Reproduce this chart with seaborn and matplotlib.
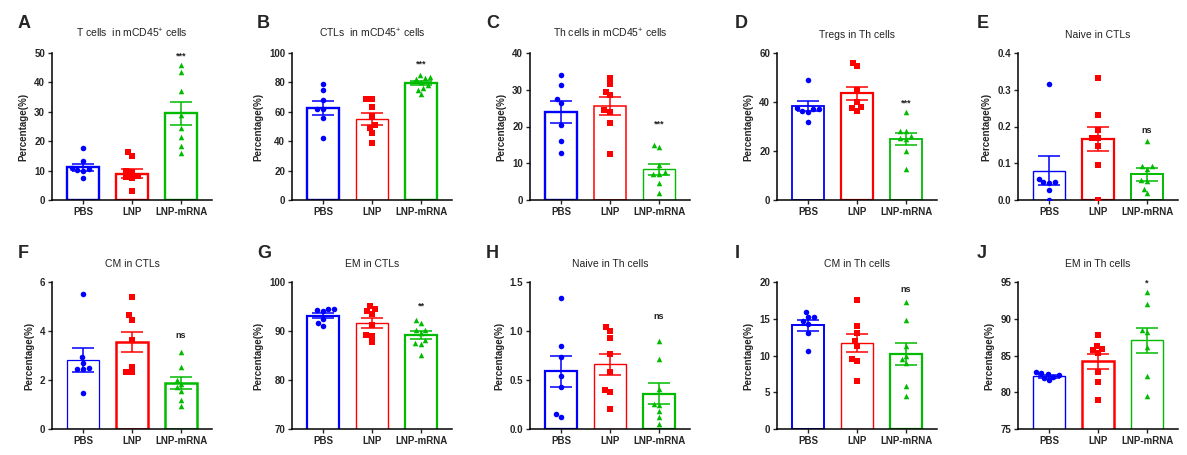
import matplotlib
matplotlib.use('Agg')
import matplotlib.pyplot as plt
import seaborn as sns
import numpy as np
import pandas as pd

sns.set_style('ticks')
plt.rcParams['font.family'] = ['Liberation Sans', 'DejaVu Sans']
plt.rcParams['mathtext.fontset'] = 'custom'
plt.rcParams['mathtext.rm'] = 'Liberation Sans'
plt.rcParams['mathtext.bf'] = 'Liberation Sans:bold'

# ---- data ----
groups = ['PBS', 'LNP', 'LNP-mRNA']
letters = ['A', 'B', 'C', 'D', 'E', 'F', 'G', 'H', 'I', 'J']
titles = [r'T cells  in mCD45$^{+}$ cells', r'CTLs  in mCD45$^{+}$ cells', r'Th cells in mCD45$^{+}$ cells',
          'Tregs in Th cells', 'Naive in CTLs', 'CM in CTLs', 'EM in CTLs',
          'Naive in Th cells', 'CM in Th cells', 'EM in Th cells']

pbs_vals = [
    [17.8, 13.1, 10.8, 10.5, 10.3, 10.0, 7.6],
    [79, 75, 68, 62, 62, 55.5, 42],
    [34.1, 31.4, 27.5, 26.5, 20.3, 16.0, 12.8],
    [49.1, 37.5, 37.0, 37.0, 36.5, 36.0, 31.8],
    [0.315, 0.058, 0.048, 0.048, 0.045, 0.027, 0.0],
    [5.5, 2.92, 2.7, 2.5, 2.45, 2.45, 1.45],
    [94.5, 94.5, 94.3, 94.0, 92.5, 91.7, 91.0],
    [1.34, 0.85, 0.73, 0.54, 0.43, 0.15, 0.12],
    [15.9, 15.2, 15.2, 14.7, 14.3, 13.0, 10.6],
    [82.7, 82.6, 82.5, 82.3, 82.1, 81.9, 81.6],
]
lnp_vals = [
    [16.2, 14.8, 10.0, 9.5, 8.0, 7.8, 7.5, 3.0],
    [69, 68.5, 63, 57, 51, 49, 45.5, 39],
    [33.3, 31.5, 29.5, 28.5, 24.5, 24.0, 21.0, 12.5],
    [56.0, 54.5, 45.0, 40.0, 38.0, 37.5, 36.5],
    [0.333, 0.23, 0.19, 0.17, 0.17, 0.148, 0.095, 0.0],
    [5.37, 4.65, 4.45, 3.65, 2.55, 2.32, 2.32],
    [95.2, 94.5, 94.0, 93.5, 91.3, 89.2, 89.0, 87.8],
    [1.04, 1.0, 0.93, 0.77, 0.58, 0.40, 0.38, 0.20],
    [17.6, 14.0, 13.0, 12.0, 11.3, 9.5, 9.2, 6.5],
    [87.8, 86.3, 85.9, 85.7, 85.3, 82.8, 81.4, 78.9],
]
mrna_vals = [
    [46.0, 43.5, 37.0, 29.0, 24.5, 21.5, 18.5, 16.0],
    [85, 84, 83, 82, 80, 78, 76, 75, 72],
    [15.0, 14.5, 9.5, 7.5, 7.0, 7.0, 4.5, 2.0],
    [36.0, 28.0, 28.0, 26.0, 25.5, 25.0, 20.0, 12.5],
    [0.16, 0.092, 0.092, 0.085, 0.055, 0.052, 0.03, 0.018],
    [3.15, 2.55, 2.0, 1.85, 1.7, 1.55, 1.2, 0.92],
    [92.3, 91.7, 90.3, 90.2, 89.5, 88.2, 87.5, 87.4, 85.2],
    [0.90, 0.71, 0.41, 0.26, 0.24, 0.18, 0.12, 0.05],
    [17.3, 14.8, 11.3, 10.0, 9.5, 9.0, 5.8, 4.5],
    [93.7, 92.0, 88.5, 88.2, 86.2, 82.2, 79.5],
]
bar_means = [
    [11.1, 9.0, 29.5], [62.5, 55.0, 79.5], [24.0, 25.5, 8.3], [38.5, 43.5, 25.0],
    [0.080, 0.166, 0.070], [2.82, 3.55, 1.88], [93.1, 91.7, 89.2],
    [0.59, 0.66, 0.36], [14.1, 11.7, 10.2], [82.2, 84.2, 87.1],
]
bar_sems = [
    [1.3, 1.6, 4.0], [4.7, 4.0, 1.5], [3.0, 2.4, 1.6], [2.0, 2.7, 2.5],
    [0.04, 0.034, 0.017], [0.48, 0.42, 0.25], [0.5, 1.0, 0.8],
    [0.16, 0.11, 0.105], [0.7, 1.2, 1.5], [0.2, 1.0, 1.7],
]
y_ticks = [
    [0, 10, 20, 30, 40, 50], [0, 20, 40, 60, 80, 100], [0, 10, 20, 30, 40], [0, 20, 40, 60],
    [0.0, 0.1, 0.2, 0.3, 0.4], [0, 2, 4, 6], [70, 80, 90, 100],
    [0.0, 0.5, 1.0, 1.5], [0, 5, 10, 15, 20], [75, 80, 85, 90, 95],
]
sig_labels = ['***', '***', '***', '***', 'ns', 'ns', '**', 'ns', 'ns', '*']
sig_heights = [49, 92.5, 20.8, 39.5, 0.19, 3.8, 95, 1.15, 19.0, 94.8]

# ---- styling ----
colors = ['#0000FF', '#FF0000', '#00BB00']
markers = ['o', 's', '^']
bar_lw = [
    [1.7, 1.7, 1.7], [1.7, 1.0, 1.7], [1.7, 1.1, 1.0], [1.3, 1.6, 1.3], [1.0, 1.6, 1.4],
    [0.9, 1.8, 1.8], [1.6, 1.0, 1.6], [1.6, 1.0, 1.6], [1.4, 1.0, 1.6], [1.0, 1.8, 1.0],
]
tick_fmt = ['%d', '%d', '%d', '%d', '%.1f', '%d', '%d', '%.1f', '%d', '%d']

W, H = 1187, 455
lefts = [52, 292, 530, 777, 1018]
letter_x = [18, 257, 486, 735, 977]
fig = plt.figure(figsize=(W / 100, H / 100), dpi=100)

for i in range(10):
    row, col = divmod(i, 5)
    bottom_px = 200 if row == 0 else 429
    ax = fig.add_axes([lefts[col] / W, 1 - bottom_px / H, 160 / W, 147 / H])

    sns.barplot(x=groups, y=bar_means[i], order=groups, hue=groups, palette=colors,
                fill=False, width=0.65, errorbar=None, legend=False, ax=ax)
    for p, c, lw in zip(ax.patches, colors, bar_lw[i]):
        p.set_facecolor('white')
        p.set_edgecolor(c)
        p.set_linewidth(lw)
        p.set_zorder(1)

    for g, vals, c, m in zip(groups, [pbs_vals[i], lnp_vals[i], mrna_vals[i]], colors, markers):
        sns.swarmplot(x=[g] * len(vals), y=vals, order=groups, color=c, marker=m,
                      size=4.6 if m != '^' else 4.8, linewidth=0, ax=ax, zorder=3)
    # shrink the markers back after swarm layout for a looser spread
    for coll in ax.collections:
        coll.set_sizes([16])

    for k, c in enumerate(colors):
        ax.errorbar(k, bar_means[i][k], yerr=bar_sems[i][k], fmt='none', ecolor=c,
                    elinewidth=1.1, capsize=8, capthick=1.1, zorder=4)

    ax.text(2, sig_heights[i], sig_labels[i], ha='center', va='center',
            fontsize=6.5, fontweight='bold', color='#222222')

    ax.set_xlim(-0.63, 2.63)
    ax.set_ylim(y_ticks[i][0], y_ticks[i][-1])
    ax.set_yticks(y_ticks[i])
    ax.set_yticklabels([tick_fmt[i] % t for t in y_ticks[i]])
    sns.despine(ax=ax)
    for s in ['left', 'bottom']:
        ax.spines[s].set_linewidth(1.1)
        ax.spines[s].set_color('black')
    ax.tick_params(axis='both', length=3, width=1.0, labelsize=7, pad=2)
    for lab in ax.get_xticklabels() + ax.get_yticklabels():
        lab.set_fontweight('bold')
    ax.set_xlabel('')
    ax.set_ylabel('Percentage(%)', fontsize=7, fontweight='bold', labelpad=4)
    ax.set_title(titles[i], fontsize=7.5, color='#222222', pad=11)

    letter_y = 23 if row == 0 else 253
    fig.text(letter_x[col] / W, 1 - letter_y / H, letters[i], fontsize=13,
             fontweight='bold', ha='left', va='center')

fig.savefig('out.png', dpi=100)
